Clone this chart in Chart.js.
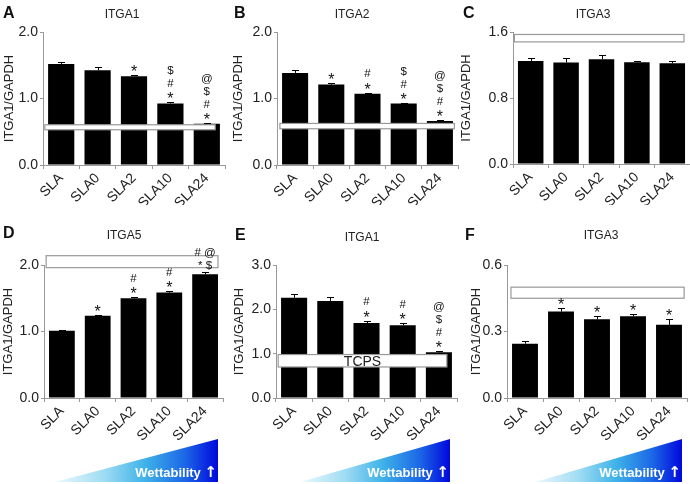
<!DOCTYPE html>
<html>
<head>
<meta charset="utf-8">
<script src="https://cdn.jsdelivr.net/npm/chart.js@4.4.1/dist/chart.umd.min.js"></script>
<style>
  body { margin: 0; background: #fff; }
  #fig { position: relative; width: 690px; height: 484px; overflow: hidden; font-family: "Liberation Sans", Arial, sans-serif; color: #222; }
  #fig canvas { position: absolute; }
  .letter { position: absolute; font-weight: bold; font-size: 16px; line-height: 16px; color: #111; }
  .title { position: absolute; width: 100px; text-align: center; font-size: 12px; line-height: 14px; }
  .wet { position: absolute; top: 439px; height: 43px; }
  .wet .tri { position: absolute; left: 0; top: 0; right: 0; bottom: 0;
    clip-path: polygon(0 100%, 100% 0, 100% 100%);
    background: linear-gradient(to right, #eef9fd 0%, #9fdcf3 30%, #3fb3e8 55%, #1b66e6 80%, #0008dc 100%); }
  .wet span { position: absolute; right: 1px; bottom: 2px; color: #fff; font-weight: bold; font-size: 13px; line-height: 15px; white-space: nowrap; }
  .wet b { font-family: "DejaVu Sans", sans-serif; font-size: 15px; }
</style>
</head>
<body>
<div id="fig">
  <canvas id="cA" width="230" height="205" style="left:0;top:0"></canvas>
  <canvas id="cB" width="230" height="205" style="left:230px;top:0"></canvas>
  <canvas id="cC" width="230" height="205" style="left:460px;top:0"></canvas>
  <canvas id="cD" width="230" height="225" style="left:0;top:215px"></canvas>
  <canvas id="cE" width="230" height="225" style="left:230px;top:215px"></canvas>
  <canvas id="cF" width="230" height="225" style="left:460px;top:215px"></canvas>

  <div class="letter" style="left:3px;top:5px">A</div>
  <div class="letter" style="left:234px;top:5px">B</div>
  <div class="letter" style="left:463px;top:5px">C</div>
  <div class="letter" style="left:3px;top:225px">D</div>
  <div class="letter" style="left:235px;top:227px">E</div>
  <div class="letter" style="left:465px;top:227px">F</div>

  <div class="title" style="left:72px;top:7px">ITGA1</div>
  <div class="title" style="left:302px;top:7px">ITGA2</div>
  <div class="title" style="left:543px;top:7px">ITGA3</div>
  <div class="title" style="left:74px;top:228px">ITGA5</div>
  <div class="title" style="left:312px;top:230px">ITGA1</div>
  <div class="title" style="left:551px;top:228px">ITGA3</div>

  <div class="wet" style="left:55px;width:163px"><div class="tri"></div><span>Wettability <b>↑</b></span></div>
  <div class="wet" style="left:300px;width:150px"><div class="tri"></div><span>Wettability <b>↑</b></span></div>
  <div class="wet" style="left:535px;width:147px"><div class="tri"></div><span>Wettability <b>↑</b></span></div>
</div>

<script>
// 分组
const groups = ['SLA', 'SLA0', 'SLA2', 'SLA10', 'SLA24'];

// A: ITGA1
const itga1A = [1.52, 1.425, 1.335, 0.925, 0.62];
const itga1AErr = [0.03, 0.05, 0.02, 0.02, 0.01];
const sigA = [[], [], ['*'], ['*', '#', '$'], ['*', '#', '$', '@']];
const tcpsA = [0.53, 0.605];
const yTicksA = [0, 1, 2];

// B: ITGA2
const itga2B = [1.385, 1.21, 1.07, 0.925, 0.66];
const itga2BErr = [0.04, 0.02, 0.02, 0.005, 0.01];
const sigB = [[], ['*'], ['*', '#'], ['*', '#', '$'], ['*', '#', '$', '@']];
const tcpsB = [0.545, 0.625];
const yTicksB = [0, 1, 2];

// C: ITGA3
const itga3C = [1.25, 1.23, 1.27, 1.233, 1.22];
const itga3CErr = [0.03, 0.05, 0.05, 0.02, 0.03];
const sigC = [[], [], [], [], []];
const tcpsC = [1.48, 1.57];
const yTicksC = [0, 0.8, 1.6];

// D: ITGA5
const itga5D = [1.01, 1.235, 1.5, 1.585, 1.86];
const itga5DErr = [0.02, 0.02, 0.015, 0.02, 0.03];
const sigD = [[], ['*'], ['*', '#'], ['*', '#'], ['* $', '# @']];
const tcpsD = [1.96, 2.14];
const yTicksD = [0, 1, 2];

// E: ITGA1
const itga1E = [2.26, 2.19, 1.69, 1.64, 1.03];
const itga1EErr = [0.09, 0.09, 0.05, 0.05, 0.02];
const sigE = [[], [], ['*', '#'], ['*', '#'], ['*', '#', '$', '@']];
const tcpsE = [0.70, 0.98];
const yTicksE = [0, 1, 2, 3];

// F: ITGA3
const itga3F = [0.245, 0.39, 0.355, 0.369, 0.33];
const itga3FErr = [0.014, 0.018, 0.016, 0.01, 0.027];
const sigF = [[], ['*'], ['*'], ['*'], ['*']];
const tcpsF = [0.45, 0.50];
const yTicksF = [0, 0.3, 0.6];

const FONT = '"Liberation Sans", Arial, sans-serif';

// 误差线、TCPS 框和显著性标记
const extras = {
    id: 'extras',
    afterDatasetsDraw(chart, args, opts) {
        const ctx = chart.ctx;
        const xs = chart.scales.x;
        const ys = chart.scales.y;
        const meta = chart.getDatasetMeta(0);
        ctx.save();

        // TCPS 框
        const x0 = xs.getPixelForValue(opts.bandFrom);
        const x1 = xs.getPixelForValue(opts.bandTo);
        const yb = ys.getPixelForValue(opts.band[0]);
        const yt = ys.getPixelForValue(opts.band[1]);
        ctx.fillStyle = '#fff';
        ctx.strokeStyle = '#999';
        ctx.lineWidth = 1.2;
        ctx.fillRect(x0, yt, x1 - x0, yb - yt);
        ctx.strokeRect(x0, yt, x1 - x0, yb - yt);
        if (opts.bandLabel) {
            ctx.fillStyle = '#222';
            ctx.font = '14px ' + FONT;
            ctx.textAlign = 'center';
            ctx.textBaseline = 'middle';
            ctx.fillText(opts.bandLabel, (x0 + x1) / 2, (yt + yb) / 2 + 1);
        }

        // 误差线
        ctx.strokeStyle = '#000';
        ctx.lineWidth = 1;
        opts.values.forEach((v, i) => {
            const x = Math.round(meta.data[i].x) + 0.5;
            const y0 = ys.getPixelForValue(v);
            const y1 = Math.round(ys.getPixelForValue(v + opts.errors[i])) + 0.5;
            ctx.beginPath();
            ctx.moveTo(x, y0);
            ctx.lineTo(x, y1);
            ctx.moveTo(x - 3.5, y1);
            ctx.lineTo(x + 3.5, y1);
            ctx.stroke();
        });

        // 显著性标记
        ctx.fillStyle = '#111';
        ctx.textAlign = 'center';
        ctx.textBaseline = 'alphabetic';
        opts.marks.forEach((rows, i) => {
            const x = meta.data[i].x;
            const top = ys.getPixelForValue(opts.values[i] + opts.errors[i]);
            rows.forEach((row, j) => {
                ctx.font = (row === '*' ? 16 : 11.5) + 'px ' + FONT;
                const m = ctx.measureText(row);
                const cy = top - 7 - 12.5 * j;
                ctx.fillText(row, x, cy + (m.actualBoundingBoxAscent - m.actualBoundingBoxDescent) / 2);
            });
        });
        ctx.restore();
    }
};

function makePanel(id, values, errors, marks, band, bandFrom, bandTo, bandLabel, yTicks, area, titlePad) {
    const canvas = document.getElementById(id);
    const w = canvas.width, h = canvas.height;
    return new Chart(canvas.getContext('2d'), {
        type: 'bar',
        data: {
            labels: groups,
            datasets: [{
                data: values,
                backgroundColor: '#000',
                borderWidth: 0,
                barPercentage: 0.72,
                categoryPercentage: 1
            }]
        },
        options: {
            responsive: false,
            animation: false,
            layout: {
                padding: { top: area.top, right: w - area.right, bottom: 0, left: 0 }
            },
            plugins: {
                legend: { display: false },
                tooltip: { enabled: false },
                extras: {
                    values: values,
                    errors: errors,
                    marks: marks,
                    band: band,
                    bandFrom: bandFrom,
                    bandTo: bandTo,
                    bandLabel: bandLabel
                }
            },
            scales: {
                x: {
                    grid: { drawOnChartArea: false, tickLength: 4, color: '#999', offset: true },
                    border: { color: '#999' },
                    ticks: {
                        minRotation: 45,
                        maxRotation: 45,
                        padding: 1,
                        color: '#222',
                        font: { family: FONT, size: 14 }
                    },
                    afterFit: s => {
                        s.height = h - area.bottom;
                        s.paddingLeft = 0;
                        s.paddingRight = 0;
                    }
                },
                y: {
                    min: yTicks[0],
                    max: yTicks[yTicks.length - 1],
                    afterBuildTicks: s => {
                        s.ticks = yTicks.map(v => ({ value: v }));
                    },
                    grid: { drawOnChartArea: false, tickLength: 3, color: '#999' },
                    border: { color: '#999' },
                    ticks: {
                        padding: 2,
                        color: '#222',
                        font: { family: FONT, size: 14 },
                        callback: v => v.toFixed(1)
                    },
                    title: {
                        display: true,
                        text: 'ITGA1/GAPDH',
                        color: '#222',
                        padding: { top: titlePad, bottom: 0 },
                        font: { family: FONT, size: 13 }
                    },
                    afterFit: s => {
                        s.width = area.left;
                        s.paddingTop = 0;
                        s.paddingBottom = 0;
                    }
                }
            }
        },
        plugins: [extras]
    });
}

makePanel('cA', itga1A, itga1AErr, sigA, tcpsA, -0.45, 4.23, '', yTicksA,
    { left: 43, right: 225, top: 32, bottom: 165 }, 1.2);
makePanel('cB', itga2B, itga2BErr, sigB, tcpsB, -0.42, 4.4, '', yTicksB,
    { left: 47, right: 228, top: 32, bottom: 165 }, 0.7);
makePanel('cC', itga3C, itga3CErr, sigC, tcpsC, -0.46, 4.33, '', yTicksC,
    { left: 53, right: 230, top: 32, bottom: 164 }, -1.3);
makePanel('cD', itga5D, itga5DErr, sigD, tcpsD, -0.44, 4.36, '', yTicksD,
    { left: 44, right: 223, top: 50, bottom: 183 }, 0.7);
makePanel('cE', itga1E, itga1EErr, sigE, tcpsE, -0.44, 4.22, 'TCPS', yTicksE,
    { left: 46, right: 227, top: 50, bottom: 183 }, 1.2);
makePanel('cF', itga3F, itga3FErr, sigF, tcpsF, -0.39, 4.42, '', yTicksF,
    { left: 47, right: 227, top: 50, bottom: 183 }, 8.2);
</script>
</body>
</html>
